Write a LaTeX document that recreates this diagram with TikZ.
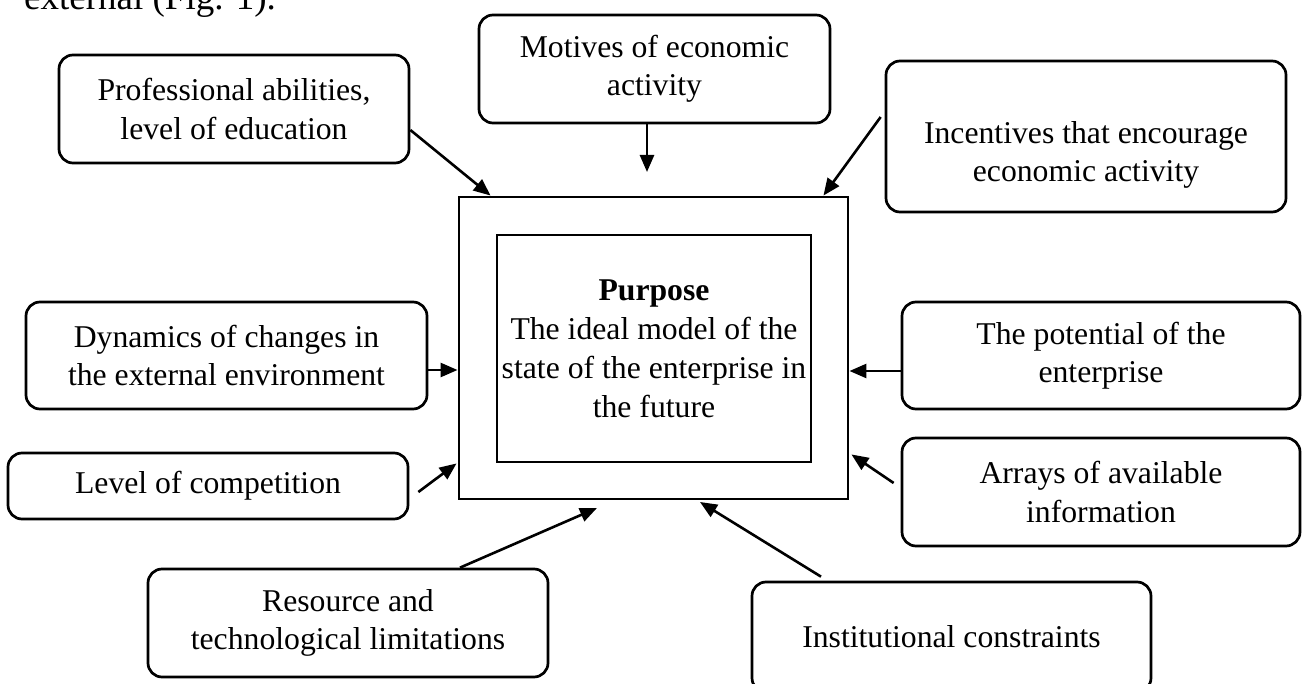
\documentclass[tikz,border=0pt]{standalone}
\usepackage{fontspec}
\setmainfont{Liberation Serif}
\usetikzlibrary{arrows.meta}
\tikzset{
  rbox/.style={draw, line width=2.7pt, rounded corners=14pt, inner sep=0pt, align=center,
    font=\fontsize{31.7}{38.5}\selectfont},
  sqbox/.style={draw, line width=2.9pt, inner sep=0pt, align=center},
  arr/.style={line width=2.6pt, -{Triangle[length=17pt,width=14pt]}}
}
\begin{document}
\begin{tikzpicture}[x=1pt,y=-1pt]
\useasboundingbox (0,0) rectangle (1302,684);
\clip (0,0) rectangle (1302,684);
% intro text (cut off at top)
\node[anchor=base west, inner sep=0pt, font=\fontsize{37}{44}\selectfont] (intro) at (24,10) {external (Fig. 1).};
% central boxes
\node[sqbox, minimum width=389pt, minimum height=302pt] (outer) at (653.5,348) {};
\node[sqbox, minimum width=314pt, minimum height=227pt, font=\fontsize{31.7}{39}\selectfont] (inner) at (654,348.5)
  {\textbf{Purpose}\\The ideal model of the\\state of the enterprise in\\the future};
% surrounding boxes
\node[rbox, minimum width=350pt, minimum height=108pt] (prof) at (234,109) {Professional abilities,\\level of education};
\node[rbox, minimum width=351pt, minimum height=108pt] (mot) at (654.5,69) {Motives of economic\\activity};
\node[rbox, minimum width=400pt, minimum height=151pt, text depth=0pt] (inc) at (1086,136.5) {\raisebox{-4pt}{\begin{tabular}{@{}c@{}}Incentives that encourage\\economic activity\end{tabular}}};
\node[rbox, minimum width=401pt, minimum height=107pt] (dyn) at (226.5,355.5) {Dynamics of changes in\\the external environment};
\node[rbox, minimum width=400pt, minimum height=66pt] (comp) at (208,486) {Level of competition};
\node[rbox, minimum width=398pt, minimum height=107pt] (pot) at (1101,355.5) {The potential of the\\enterprise};
\node[rbox, minimum width=398pt, minimum height=108pt] (arrs) at (1101,492) {Arrays of available\\information};
\node[rbox, minimum width=400pt, minimum height=108pt] (res) at (348,623) {Resource and\\technological limitations};
\node[rbox, minimum width=399pt, minimum height=110pt] (inst) at (951.5,637) {Institutional constraints};
% free arrow ends
\coordinate (motend) at (647,172);
\coordinate (resend) at (597,508);
\coordinate (instend) at (700,502);
% connectors
\draw[arr] ([yshift=-21pt]prof.east) -- ([xshift=33pt]outer.north west);
\draw[arr] ([xshift=-7.5pt]mot.south) -- (motend);
\draw[arr] ([xshift=-4pt,yshift=19.5pt]inc.west) -- ([xshift=-26pt]outer.north east);
\draw[arr] ([yshift=-14.5pt]dyn.east) -- ([yshift=-22pt]outer.west);
\draw[arr] ([xshift=9pt,yshift=-6pt]comp.east) -- ([xshift=-1pt,yshift=37pt]outer.south west);
\draw[arr] ([yshift=-15.5pt]pot.west) -- ([yshift=-23pt]outer.east);
\draw[arr] ([xshift=-7pt,yshift=9pt]arrs.west) -- ([xshift=2pt,yshift=46pt]outer.south east);
\draw[arr] ([xshift=112pt]res.north) -- (resend);
\draw[arr] ([xshift=-130.5pt,yshift=4pt]inst.north) -- (instend);
\end{tikzpicture}
\end{document}
